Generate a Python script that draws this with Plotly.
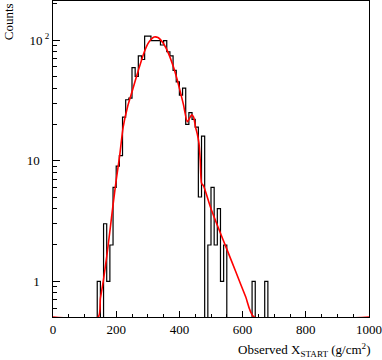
import numpy as np
import plotly.graph_objects as go

# histogram of observed Xstart, 10 g/cm2 bins (lower edges)
bin_lo = list(range(140, 680, 10))
counts = [1, 0, 3, 1, 2, 6, 9, 11, 23, 32,
          33, 59, 50, 74, 69, 108, 108, 99, 99, 99,
          91, 99, 80, 74, 56, 45, 35, 40, 20, 25,
          22, 19, 5, 16, 0, 2, 6, 2, 4, 1,
          2, 0, 0, 0, 0, 0, 0, 0, 0, 1,
          0, 0, 0, 1]
bin_w = 10

# fitted curve (values below the frame sit on the axis)
fit_x = [0, 143, 150, 159, 170, 180, 190, 200, 211, 222, 236, 251, 270, 286,
         300, 310, 320, 332, 349, 365, 381, 392, 402, 413, 425, 432, 439, 445,
         451, 457, 462, 466, 470, 476, 500, 525, 550, 580, 610, 636, 1000]
fit_y = [0.506, 0.506, 0.72, 1.0, 1.6, 2.6, 4.3, 6.9, 11, 19, 28, 38, 56, 76,
         93, 101, 106, 105, 94, 78, 60, 48, 38, 29, 21, 22.5, 24, 23,
         19, 16.5, 13.9, 10, 6.5, 6.2, 4.0, 2.7, 1.85, 1.17, 0.74, 0.506, 0.506]

x_ticks = [0, 200, 400, 600, 800, 1000]
y_ticks = [1, 10, 100]
y_ticktext = ["1&nbsp;&nbsp;&nbsp;", "10&nbsp;&nbsp;&nbsp;", "10<sup> 2</sup>"]

ymin_log, ymax_log = -0.296, 2.324
floor = 0.1  # empty bins drawn below the frame

xs = [0] + bin_lo + [bin_lo[-1] + bin_w, 1000]
ys = [floor] + [c if c > 0 else floor for c in counts] + [floor, floor]

FONT = "Liberation Serif, DejaVu Serif, serif"

fig = go.Figure()
fig.add_trace(go.Scatter(x=xs, y=ys, mode="lines", line_shape="hv",
                         line=dict(color="black", width=1.2),
                         hoverinfo="skip", showlegend=False))
fig.add_trace(go.Scatter(x=fit_x, y=fit_y, mode="lines", line_shape="spline",
                         line=dict(color="rgb(255,0,0)", width=1.6, smoothing=0.6),
                         hoverinfo="skip", showlegend=False))

minor_y = [m * d for d in (0.1, 1, 10, 100) for m in range(2, 10)]

fig.update_layout(
    template="none",
    width=382, height=360,
    margin=dict(l=53, r=13, t=1, b=43),
    paper_bgcolor="white", plot_bgcolor="white",
    font=dict(family=FONT, size=13, color="black"),
    xaxis=dict(range=[0, 1000], tickvals=x_ticks, showgrid=False, zeroline=False,
               showline=True, mirror=True, linecolor="black", linewidth=1,
               ticks="inside", ticklen=6, tickcolor="black",
               minor=dict(dtick=50, ticks="inside", ticklen=3, tickcolor="black"),
               tickfont=dict(family=FONT, size=13, color="black")),
    yaxis=dict(type="log", range=[ymin_log, ymax_log], tickvals=y_ticks,
               ticktext=y_ticktext, showgrid=False, zeroline=False,
               showline=True, mirror=True, linecolor="black", linewidth=1,
               ticks="inside", ticklen=7, tickcolor="black",
               minor=dict(tickvals=minor_y, ticks="inside", ticklen=4, tickcolor="black"),
               tickfont=dict(family=FONT, size=13, color="black")),
    annotations=[
        dict(text="Counts", textangle=-90, xref="paper", yref="paper",
             x=-0.14, y=1.0, xanchor="center", yanchor="top", showarrow=False,
             font=dict(family=FONT, size=13, color="black")),
        dict(text="Observed X<sub>START</sub> (g/cm<sup>2</sup>)", xref="paper", yref="paper",
             x=1.01, y=-0.07, xanchor="right", yanchor="top", showarrow=False,
             font=dict(family=FONT, size=13, color="black")),
    ],
)

fig.write_html("out.html", config={"displayModeBar": False},
               post_script="document.body.style.margin='0px';")
